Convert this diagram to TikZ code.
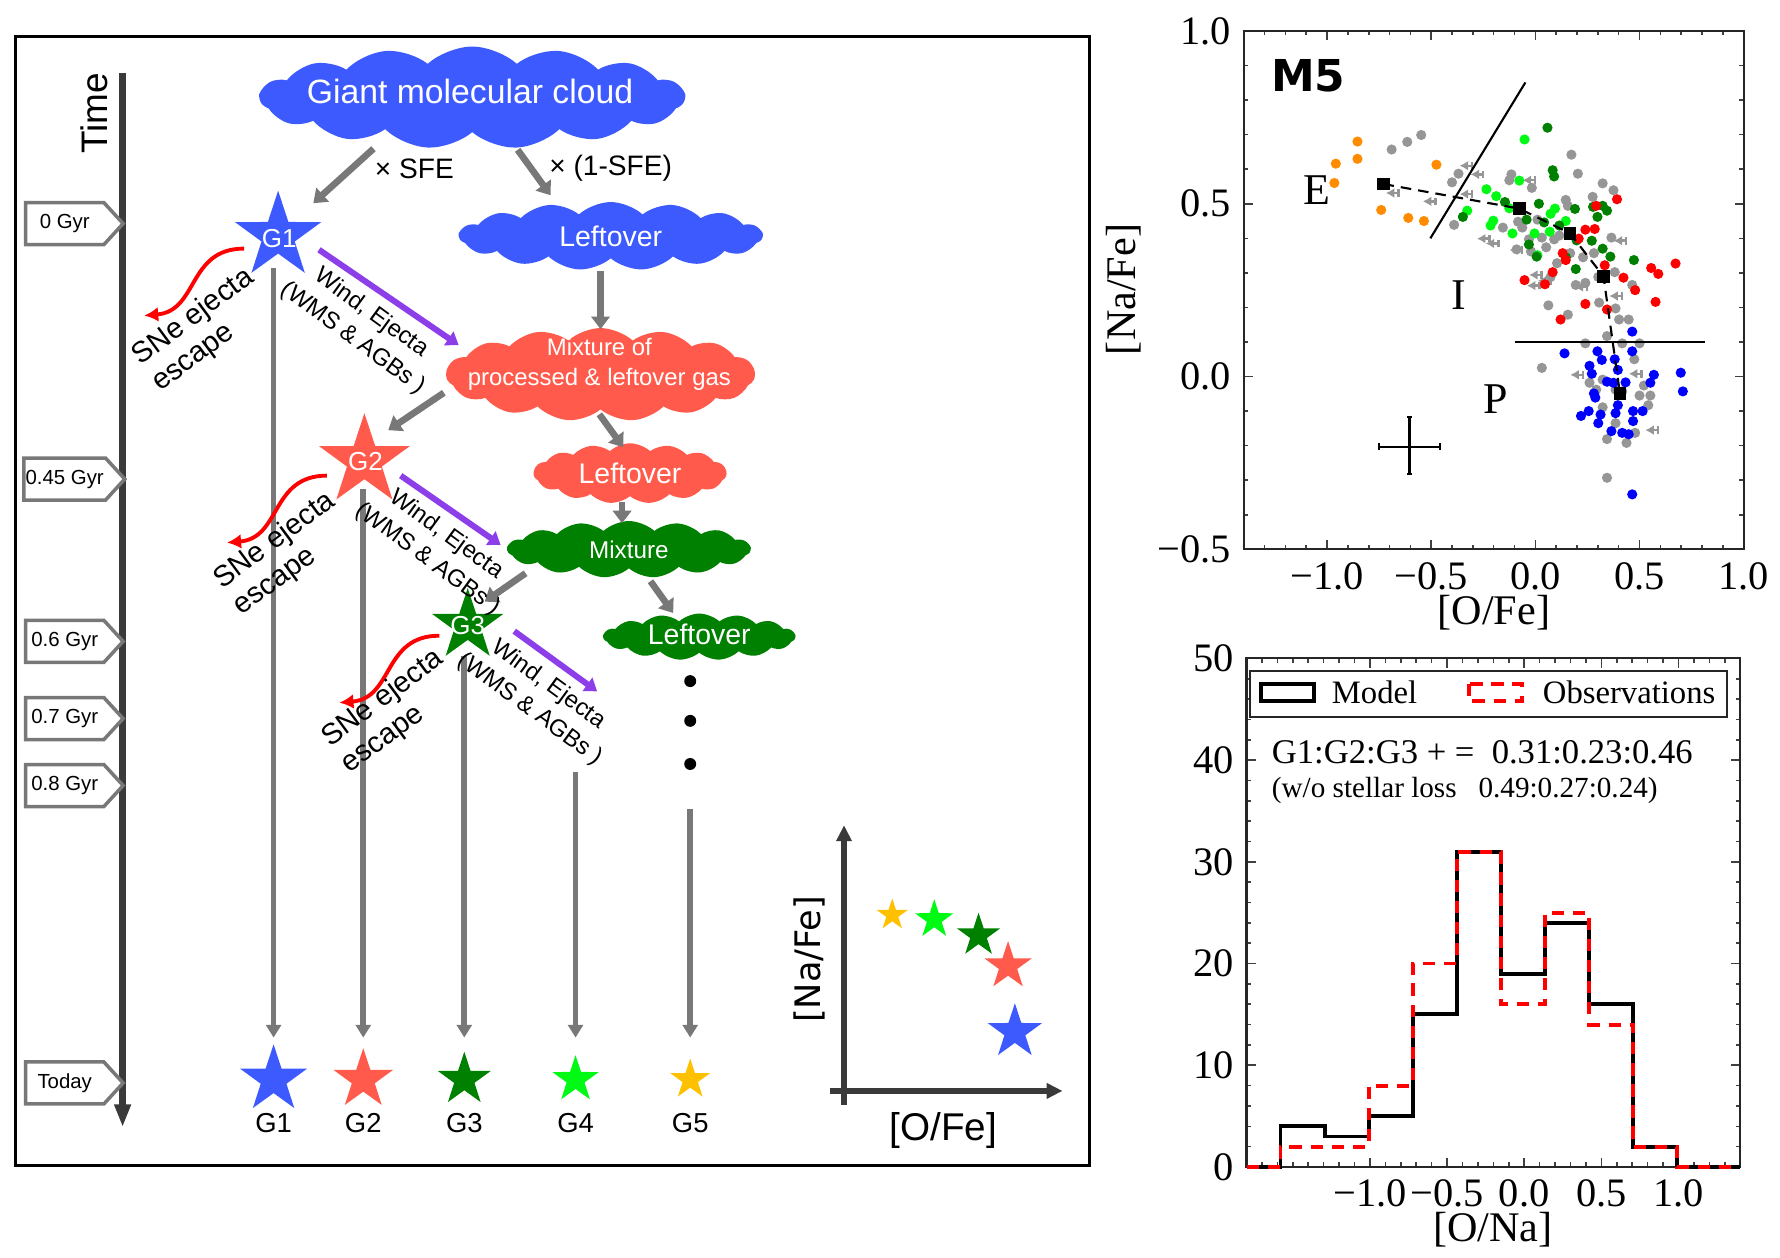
\documentclass[tikz,border=0pt]{standalone}
\usepackage{fontspec}
\setmainfont{Liberation Serif}
\newfontfamily\hv{Liberation Sans}
\newfontfamily\dvs{DejaVu Sans}
\usepackage{tikz}
\usetikzlibrary{calc,arrows.meta,shapes,positioning}

\definecolor{gmcblue}{RGB}{61,90,254}
\definecolor{mixred}{RGB}{255,90,75}
\definecolor{mixgreen}{RGB}{0,128,0}
\definecolor{litegreen}{RGB}{0,250,20}
\definecolor{gold}{RGB}{255,192,0}
\definecolor{flowgray}{RGB}{120,120,120}
\definecolor{windpurple}{RGB}{140,62,232}
\definecolor{axisgray}{RGB}{58,58,58}
\definecolor{dotorange}{RGB}{255,140,0}
\definecolor{dotgray}{RGB}{150,150,150}

\def\pxu{0.11352mm}

\tikzset{
  gas/.style={cloud, cloud puffs=15, cloud puff arc=85, cloud ignores aspect, inner sep=0pt},
  gastext/.style={text=white, align=center, inner sep=0pt},
  gen/.style={star, star points=5, star point ratio=2.6, inner sep=0pt},
  gentext/.style={text=white, inner sep=0pt, font=\hv\fontsize{7.4}{9}\selectfont},
  epoch/.style={signal, signal to=east, signal pointer angle=95, draw=flowgray, line width=1pt,
    fill=white, minimum width=86*\pxu, minimum height=37*\pxu, inner xsep=0.5pt, inner ysep=1pt,
    font=\hv\fontsize{5.8}{7}\selectfont},
  flow/.style={draw=flowgray, line width=1.9pt, -{Triangle[length=3.6pt,width=5.2pt]}},
  wind/.style={draw=windpurple, line width=1.7pt, -{Triangle[length=3.4pt,width=4.6pt]}},
  sne/.style={draw=red, line width=1.1pt, -{Latex[length=4pt,width=4.2pt]}},
  life/.style={draw=flowgray, line width=1.6pt, -{Triangle[length=3.6pt,width=4.2pt]}},
  timeaxis/.style={draw=axisgray, line width=1.9pt, -{Triangle[length=6.5pt,width=4.4pt]}},
  insetaxis/.style={draw=axisgray, line width=1.5pt, -{Triangle[length=4.5pt,width=4.2pt]}},
  flowlbl/.style={font=\hv\fontsize{8}{9.5}\selectfont},
  snelbl/.style={font=\hv\fontsize{8.3}{9.3}\selectfont, align=left, rotate=36.5},
  windlbl/.style={font=\hv\fontsize{6.8}{8.8}\selectfont, align=center, rotate=-36},
  ticklbl/.style={font=\fontsize{11.5}{13}\selectfont, inner sep=1.5pt},
  tickln/.style={black!75, line width=0.45pt},
  plotframe/.style={black!85, line width=0.6pt},
  limit/.style={dotgray, line width=0.7pt}
}

\begin{document}
\begin{tikzpicture}[x=0.11352mm,y=-0.11352mm]
\useasboundingbox (0,0) rectangle (1568,1108);

%% left panel: the cartoon
\draw[line width=0.8pt] (14,32) rectangle (960,1027);

\coordinate (ttop) at (108,64);
\coordinate (tbot) at (108,993);
\draw[timeaxis] (ttop) -- (tbot);
\node[rotate=90, font=\hv\fontsize{10.5}{12}\selectfont] (timelbl) at (83,100) {Time};

\foreach \y/\t [count=\k] in {197/0 Gyr, 422/0.45 Gyr, 565/0.6 Gyr, 633/0.7 Gyr, 692/0.8 Gyr, 954/Today}
  \node[epoch] (ep\k) at (57,\y) {\t};

% gas clouds
\node[gas, fill=gmcblue, minimum width=374*\pxu, minimum height=90*\pxu] (gmc) at (416,86) {};
\node[gastext, font=\hv\fontsize{9.6}{11}\selectfont] (gmctxt) at (414,81) {Giant molecular cloud};
\node[gas, fill=gmcblue, minimum width=267*\pxu, minimum height=60*\pxu] (lo1) at (538,208) {};
\node[gastext, font=\hv\fontsize{8.1}{10}\selectfont] (lo1txt) at (lo1) {Leftover};
\node[gas, fill=mixred, minimum width=272*\pxu, minimum height=82*\pxu] (mix1) at (529,330) {};
\node[gastext, font=\hv\fontsize{6.8}{8.7}\selectfont] (mix1txt) at (528,321) {Mixture of\\processed \& leftover gas};
\node[gas, fill=mixred, minimum width=170*\pxu, minimum height=53*\pxu] (lo2) at (555,417) {};
\node[gastext, font=\hv\fontsize{8.1}{10}\selectfont] (lo2txt) at (lo2) {Leftover};
\node[gas, fill=mixgreen, minimum width=214*\pxu, minimum height=50*\pxu] (mix2) at (554,484) {};
\node[gastext, font=\hv\fontsize{6.9}{8}\selectfont] (mix2txt) at (mix2) {Mixture};
\node[gas, fill=mixgreen, minimum width=169*\pxu, minimum height=41*\pxu] (lo3) at (616,561) {};
\node[gastext, font=\hv\fontsize{8.1}{10}\selectfont] (lo3txt) at (616,559) {Leftover};

% lifelines down to today (drawn first, stars sit on top)
\coordinate (g4top) at (507,680);
\coordinate (g5top) at (608,713);
\draw[life] (241,236) -- (241,914);
\draw[life] (320,431) -- (320,914);
\draw[life] (409,578) -- (409,914);
\draw[life] (g4top) -- (507,914);
\draw[life] (g5top) -- (608,914);

% generations
\node[gen, fill=gmcblue, minimum size=80*\pxu] (g1) at (245,208) {};
\node[gentext] (g1txt) at (246,210) {G1};
\node[gen, fill=mixred, minimum size=84*\pxu] (g2) at (321,406) {};
\node[gentext] (g2txt) at (322,407) {G2};
\node[gen, fill=mixgreen, minimum size=66*\pxu] (g3) at (412,551) {};
\node[gentext] (g3txt) at (412,551) {G3};

% gas flow
\draw[flow] ($(gmc)+(-87,45)$) -- ($(g1)+(31,-29)$);
\draw[flow] ($(gmc)+(40,46)$) -- ($(lo1)+(-53,-36)$);
\draw[flow] ($(lo1)+(-9,31)$) -- ($(mix1)+(0,-40)$);
\draw[flow] ($(mix1)+(-138,16)$) -- ($(g2)+(21,-27)$);
\draw[flow] ($(mix1)+(-1,35)$) -- ($(lo2)+(-6,-23)$);
\draw[flow] ($(lo2)+(-7,25)$) -- ($(mix2)+(-6,-23)$);
\draw[flow] ($(mix2)+(-91,21)$) -- ($(g3)+(15,-21)$);
\draw[flow] ($(mix2)+(19,28)$) -- ($(lo3)+(-23,-21)$);

\node[flowlbl] (sfe) at (365,149) {× SFE};
\node[flowlbl] (nosfe) at (538,148) {× (1-SFE)};

% winds and ejecta
\coordinate (w3end) at (526,609);
\draw[wind] ($(g1)+(36,12)$) -- ($(mix1)+(-125,-26)$);
\draw[wind] ($(g2)+(32,13)$) -- ($(mix2)+(-113,-4)$);
\draw[wind] ($(g3)+(41,5)$) -- (w3end);
\node[windlbl] (wl1) at (319,287) {Wind, Ejecta\\(WMS \& AGBs )};
\node[windlbl] (wl2) at (385,482) {Wind, Ejecta\\(WMS \& AGBs )};
\node[windlbl] (wl3) at (475,614) {Wind, Ejecta\\(WMS \& AGBs )};

% supernova ejecta
\foreach \g/\dx/\dy in {g1/-30/11, g2/-33/13, g3/-25/9}
  \draw[sne] ($(\g)+(\dx,\dy)$) .. controls ($(\g)+(\dx-50,\dy)$) and ($(\g)+(\dx-40,\dy+55)$) .. ($(\g)+(\dx-88,\dy+59)$);
\node[snelbl] (sl1) at (179,291) {SNe ejecta\\escape};
\node[snelbl] (sl2) at (251,488) {SNe ejecta\\escape};
\node[snelbl] (sl3) at (346,627) {SNe ejecta\\escape};

\foreach \y in {600,635,673}
  \fill (608,\y) circle (1.7pt);

% today
\foreach \x/\r/\c [count=\k] in {241/31/gmcblue, 320/27.6/mixred, 409/24.5/mixgreen, 507/21.5/litegreen, 608/18.5/gold}{
  \node[gen, fill=\c, minimum size=2*\r*\pxu] (f\k) at (\x,951) {};
  \node[font=\hv\fontsize{7.8}{9}\selectfont] (fl\k) at (\x,989) {G\k};
}

% small Na-O sketch
\coordinate (yaxb) at (743.5,973);
\coordinate (yaxt) at (743.5,727);
\coordinate (xaxl) at (731,961);
\coordinate (xaxr) at (936,961);
\draw[insetaxis] (yaxb) -- (yaxt);
\draw[insetaxis] (xaxl) -- (xaxr);
\node[rotate=90, font=\dvs\fontsize{10}{12}\selectfont] (nafe) at (713,845) {[Na/Fe]};
\node[font=\hv\fontsize{11}{13}\selectfont] (ofe) at (831,996) {[O/Fe]};
\foreach \x/\y/\r/\c [count=\k] in {786/806/14.5/gold, 823/810/17.8/litegreen, 862/824/20/mixgreen, 888/851/22/mixred, 894/909/25.2/gmcblue}
  \node[gen, fill=\c, minimum size=2*\r*\pxu] (i\k) at (\x,\y) {};

%% top right: M5 [Na/Fe] vs [O/Fe]
\begin{scope}[xshift=153.536mm, yshift=-37.655mm, x=2.0831cm, y=3.4556cm]
  \foreach \i in {-13,...,9}{
    \draw[tickln] (\i/10,-0.5) -- ++(0,0.013);
    \draw[tickln] (\i/10,1.0) -- ++(0,-0.013);
  }
  \foreach \i in {-10,-5,0,5}{
    \draw[tickln] (\i/10,-0.5) -- ++(0,0.026);
    \draw[tickln] (\i/10,1.0) -- ++(0,-0.026);
  }
  \foreach \i in {-4,...,9}{
    \draw[tickln] (-1.4,\i/10) -- ++(0.022,0);
    \draw[tickln] (1.0,\i/10) -- ++(-0.022,0);
  }
  \foreach \i in {0,5}{
    \draw[tickln] (-1.4,\i/10) -- ++(0.044,0);
    \draw[tickln] (1.0,\i/10) -- ++(-0.044,0);
  }
  \draw[plotframe] (-1.4,-0.5) rectangle (1.0,1.0);
  \foreach \v/\t [count=\k] in {-1.0/−1.0, -0.5/−0.5, 0.0/0.0, 0.5/0.5, 1.0/1.0}
    \node[ticklbl, below=2pt] (sxt\k) at (\v,-0.5) {\t};
  \foreach \v/\t [count=\k] in {-0.5/−0.5, 0.0/0.0, 0.5/0.5, 1.0/1.0}
    \node[ticklbl, left=2pt] (syt\k) at (-1.4,\v) {\t};

  % field stars
  \foreach \x/\y in {-0.69/0.657,-0.615/0.679,-0.548/0.699,-0.4/0.562,-0.369/0.587,-0.39/0.439,0.173/0.642,0.204/0.587,-0.115/0.585,-0.017/0.546,0.323/0.559,0.375/0.539,0.275/0.52,0.146/0.511,-0.125/0.568,0.156/0.494,0.01/0.454,-0.083/0.448,-0.156/0.431,-0.063/0.431,0.09/0.397,0.031/0.402,-0.031/0.397,-0.09/0.368,-0.021/0.362,0.052/0.374,0.104/0.328,0.167/0.357,0.229/0.345,0.281/0.357,0.381/0.302,0.302/0.288,0.194/0.265,0.0625/0.206,0.156/0.179,0.306/0.214,0.385/0.197,0.402/0.165,0.448/0.165,0.465/0.265,0.344/0.117,0.417/0.096,0.5/0.096,0.24/0.096,0.475/0.05,0.031/0.025,0.26/-0.018,0.323/-0.009,0.417/-0.043,0.5/-0.055,0.552/-0.055,0.542/-0.083,0.323/-0.089,0.385/-0.135,0.479/-0.163,0.4375/-0.192,0.344/-0.181,0.344/-0.293,0.385/-0.038,0.292/-0.038,0.521/-0.026,0.073/0.288,0.24/0.271,0.365/0.402,0.115/0.408}
    \fill[dotgray] (\x,\y) circle (1.45pt);
  \foreach \x/\y in {-0.333/0.61,-0.281/0.585,-0.6875/0.531,-0.51/0.507,-0.333/0.528,-0.25/0.399,-0.208/0.385,-0.094/0.366,-0.031/0.568,0.0/0.294,0.042/0.277,-0.01/0.263,0.219/0.259,0.385/0.233,0.406/0.393,0.198/0.005,0.479/0.008,0.558/-0.155}{
    \draw[limit, -{Latex[length=2.4pt,width=2.8pt]}] (\x+0.03,\y) -- (\x-0.03,\y);
    \draw[limit] (\x+0.03,\y-0.011) -- (\x+0.03,\y+0.011);
  }
  \foreach \x/\y in {-0.965/0.56,-0.958/0.616,-0.854/0.68,-0.854/0.63,-0.74/0.482,-0.61/0.459,-0.535/0.45,-0.475/0.613}
    \fill[dotorange] (\x,\y) circle (1.45pt);
  \foreach \x/\y in {-0.052/0.686,-0.077/0.567,-0.235/0.542,-0.188/0.522,-0.125/0.487,-0.202/0.451,-0.215/0.437,-0.11/0.414,-0.004/0.414,0.01/0.351,0.069/0.419,0.073/0.471,0.094/0.486,0.146/0.45,-0.327/0.48}
    \fill[litegreen] (\x,\y) circle (1.45pt);
  \foreach \x/\y in {0.058/0.72,0.083/0.597,0.09/0.579,-0.146/0.505,-0.042/0.454,0.017/0.5,0.042/0.446,0.19/0.485,0.277/0.491,0.323/0.494,0.298/0.462,0.344/0.48,0.198/0.394,0.271/0.393,0.323/0.37,0.36/0.347,0.473/0.337,0.146/0.345,0.194/0.311,-0.031/0.382,0.006/0.347,-0.348/0.462,0.115/0.437}
    \fill[mixgreen] (\x,\y) circle (1.45pt);
  \foreach \x/\y in {0.392/0.513,0.292/0.494,0.24/0.425,0.285/0.427,0.208/0.399,0.131/0.357,0.146/0.337,0.083/0.302,0.046/0.267,-0.052/0.279,0.24/0.21,0.121/0.165,0.333/0.322,0.423/0.286,0.479/0.25,0.556/0.314,0.59/0.297,0.673/0.327,0.577/0.216,0.344/0.194}
    \fill[red] (\x,\y) circle (1.45pt);
  \foreach \x/\y in {0.465/0.13,0.14/0.067,0.298/0.073,0.319/0.048,0.381/0.05,0.465/0.073,0.26/0.031,0.271/0.008,0.344/-0.015,0.396/0.019,0.433/-0.017,0.375/-0.018,0.569/0.005,0.552/-0.018,0.698/0.011,0.708/-0.043,0.281/-0.049,0.288/-0.061,0.396/-0.083,0.385/-0.106,0.469/-0.1,0.515/-0.1,0.219/-0.114,0.256/-0.1,0.313/-0.11,0.469/-0.129,0.302/-0.135,0.365/-0.158,0.417/-0.163,0.448/-0.167,0.465/-0.341}
    \fill[blue] (\x,\y) circle (1.45pt);

  % population boundaries and mean track
  \draw[line width=0.6pt] (-0.504,0.4) -- (-0.048,0.851);
  \draw[line width=0.6pt] (-0.1,0.0994) -- (0.8125,0.0994);
  \draw[line width=0.6pt, dash pattern=on 3pt off 2pt] (-0.729,0.557) -- (-0.077,0.486) -- (0.167,0.414) -- (0.327,0.29) -- (0.406,-0.049);
  \foreach \x/\y in {-0.729/0.557,-0.077/0.486,0.167/0.414,0.327/0.29,0.406/-0.049}
    \fill (\x,\y) ++(-1.8pt,-1.8pt) rectangle ++(3.6pt,3.6pt);

  % typical error
  \draw[line width=0.6pt] (-0.75,-0.203) -- (-0.458,-0.203);
  \draw[line width=0.6pt] (-0.604,-0.118) -- (-0.604,-0.283);
  \draw[line width=0.6pt] (-0.75,-0.213) -- (-0.75,-0.193) (-0.458,-0.213) -- (-0.458,-0.193);
  \draw[line width=0.6pt] (-0.614,-0.118) -- (-0.594,-0.118) (-0.614,-0.283) -- (-0.594,-0.283);

  \node[font=\dvs\bfseries\fontsize{12.5}{14}\selectfont] (mfive) at (-1.09,0.87) {M5};
  \node[font=\fontsize{12.5}{14}\selectfont] (popE) at (-1.049,0.539) {E};
  \node[font=\fontsize{12.5}{14}\selectfont] (popI) at (-0.366,0.237) {I};
  \node[font=\fontsize{12.5}{14}\selectfont] (popP) at (-0.191,-0.066) {P};
\end{scope}
\node[font=\fontsize{12}{14}\selectfont] (scx) at (1316,540) {[O/Fe]};
\node[rotate=90, font=\fontsize{12}{14}\selectfont] (scy) at (990,255) {[Na/Fe]};

%% bottom right: [O/Na] histogram
\begin{scope}[xshift=152.423mm, yshift=-116.699mm, x=1.5427cm, y=0.10171cm]
  \foreach \i in {-17,...,13}{
    \draw[tickln] (\i/10,0) -- ++(0,0.45);
    \draw[tickln] (\i/10,50) -- ++(0,-0.45);
  }
  \foreach \i in {-10,-5,0,5,10}{
    \draw[tickln] (\i/10,0) -- ++(0,0.9);
    \draw[tickln] (\i/10,50) -- ++(0,-0.9);
  }
  \foreach \i in {2,4,...,48}{
    \draw[tickln] (-1.8,\i) -- ++(0.03,0);
    \draw[tickln] (1.4,\i) -- ++(-0.03,0);
  }
  \foreach \i in {10,20,30,40}{
    \draw[tickln] (-1.8,\i) -- ++(0.06,0);
    \draw[tickln] (1.4,\i) -- ++(-0.06,0);
  }
  \draw[plotframe] (-1.8,0) rectangle (1.4,50);
  \foreach \v/\t [count=\k] in {-1.0/−1.0, -0.5/−0.5, 0.0/0.0, 0.5/0.5, 1.0/1.0}
    \node[ticklbl, below=2pt] (hxt\k) at (\v,0) {\t};
  \foreach \v [count=\k] in {0,10,20,30,40,50}
    \node[ticklbl, left=2pt] (hyt\k) at (-1.8,\v) {\v};

  % model and observed counts
  \draw[line width=1.1pt] (-1.8,0) -| (-1.58,4) -| (-1.294,3) -| (-1.009,5) -| (-0.723,15) -| (-0.437,31) -| (-0.151,19) -| (0.134,24) -| (0.42,16) -| (0.706,2) -| (0.991,0) -- (1.4,0);
  \draw[red, line width=1.1pt, dash pattern=on 3.5pt off 2.5pt] (-1.8,0) -| (-1.58,2) -| (-1.294,2) -| (-1.009,8) -| (-0.723,20) -| (-0.437,31) -| (-0.151,16) -| (0.134,25) -| (0.42,14) -| (0.706,2) -| (0.991,0) -- (1.4,0);

  % legend
  \draw[plotframe, fill=white] (-1.775,48.8) rectangle (1.315,44.2);
  \draw[line width=1.2pt] (-1.708,47.5) rectangle (-1.362,45.8);
  \draw[red, line width=1.2pt, dash pattern=on 3.5pt off 2.5pt] (-0.36,47.5) rectangle (-0.017,45.8);
  \node[font=\fontsize{9.3}{11}\selectfont] (legmodel) at (-0.97,46.7) {Model};
  \node[font=\fontsize{9.3}{11}\selectfont] (legobs) at (0.68,46.7) {Observations};

  \node[anchor=west, inner sep=0pt, font=\fontsize{9.85}{12}\selectfont] (ratio) at (-1.64,40.8) {G1:G2:G3 + =\ \ 0.31:0.23:0.46};
  \node[anchor=west, inner sep=0pt, font=\fontsize{8.3}{10}\selectfont] (ratiow) at (-1.64,37.0) {(w/o stellar loss\ \ \ 0.49:0.27:0.24)};
\end{scope}
\node[font=\fontsize{12}{14}\selectfont] (hx) at (1315,1083) {[O/Na]};

\end{tikzpicture}
\end{document}
